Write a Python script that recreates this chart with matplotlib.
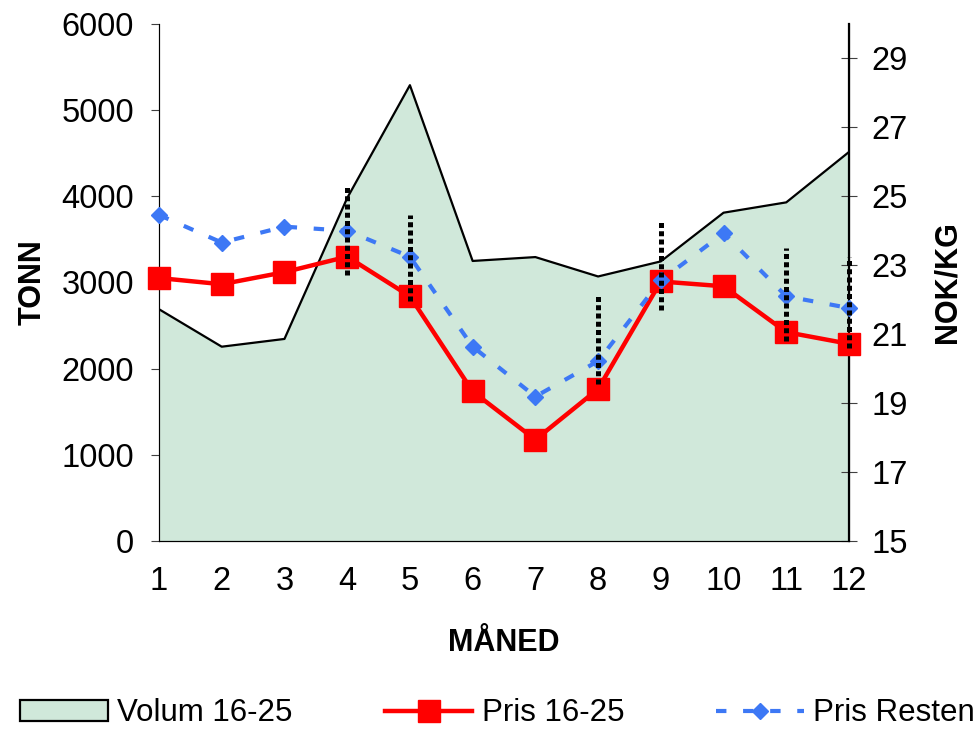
import numpy as np
import matplotlib.pyplot as plt
from matplotlib.patches import Patch
from matplotlib.lines import Line2D

plt.rcParams['font.family'] = ['Liberation Sans', 'DejaVu Sans']

# data
months = [1, 2, 3, 4, 5, 6, 7, 8, 9, 10, 11, 12]
volum = [2690, 2255, 2345, 3980, 5290, 3250, 3295, 3070, 3245, 3810, 3930, 4515]
pris_16_25 = [22.63, 22.45, 22.80, 23.25, 22.10, 19.34, 17.94, 19.41, 22.53, 22.39, 21.06, 20.72]
pris_resten = [24.46, 23.66, 24.12, 24.00, 23.25, 20.64, 19.19, 20.22, 22.56, 23.93, 22.10, 21.76]

# dotted high/low bars
bar_months = [4, 5, 8, 9, 11, 12]
bar_high = [25.27, 24.47, 22.10, 24.26, 23.51, 23.23]
bar_low = [22.73, 21.96, 19.55, 21.69, 20.80, 20.61]

fig = plt.figure(figsize=(9.78, 7.29), dpi=100)
ax = fig.add_axes([159 / 978, 1 - 541 / 729, 690 / 978, 517 / 729])
ax2 = ax.twinx()

# volume area on left axis
ax.fill_between(months, volum, 0, facecolor='#d0e8da', edgecolor='none', zorder=1)
ax.plot(months, volum, color='black', lw=1.6, zorder=2)
ax.set_xlim(1, 12)
ax.set_ylim(0, 6000)
ax.set_xticks(months)
ax.set_yticks(np.arange(0, 6001, 1000))

# prices on right axis
ax2.plot(months, pris_16_25, color='#ff0000', lw=3.2, marker='s', ms=16,
         zorder=3, clip_on=False)
ax2.plot(months, pris_resten, color='#3d78f5', lw=3, ls=(0, (2.5, 4)),
         marker='D', ms=8, zorder=4, clip_on=False)
ax2.vlines(bar_months, bar_low, bar_high, colors='black', lw=3.6,
           linestyles=(0, (1, 0.65)), zorder=5, clip_on=False)
ax2.set_ylim(15, 30)
ax2.set_yticks(np.arange(15, 30, 2))

fs_tick = 23.5
fs_lab = 22
for a in (ax, ax2):
    a.spines['top'].set_visible(False)
    a.tick_params(labelsize=fs_tick)
ax.spines['left'].set_color('#404040')
ax.spines['bottom'].set_color('black')
ax2.spines['right'].set_color('black')
ax2.spines['right'].set_linewidth(1.6)
ax.tick_params(axis='y', direction='out', length=6, color='#404040', pad=12)
ax.tick_params(axis='x', direction='out', length=0, pad=18)
ax2.tick_params(axis='y', direction='inout', length=12, color='#404040', pad=10)

ax.set_xlabel('MÅNED', fontsize=fs_lab, fontweight='bold', labelpad=22)
ax.set_ylabel('TONN', fontsize=fs_lab, fontweight='bold', labelpad=10)
ax2.set_ylabel('NOK/KG', fontsize=fs_lab, fontweight='bold', labelpad=18)

handles = [
    Patch(facecolor='#d0e8da', edgecolor='black', lw=1.6),
    Line2D([], [], color='#ff0000', lw=3.2, marker='s', ms=16),
    Line2D([], [], color='#3d78f5', lw=3, ls=(0, (2.5, 4)), marker='D', ms=8),
]
labels = ['Volum 16-25', 'Pris 16-25', 'Pris Resten']
fig.legend(handles, labels, loc='lower center', bbox_to_anchor=(0.509, -0.025),
           ncol=3, frameon=False, fontsize=22.5, handlelength=2.8,
           handletextpad=0.3, columnspacing=2.95, borderaxespad=0.2)

fig.savefig('out.png', dpi=100)
